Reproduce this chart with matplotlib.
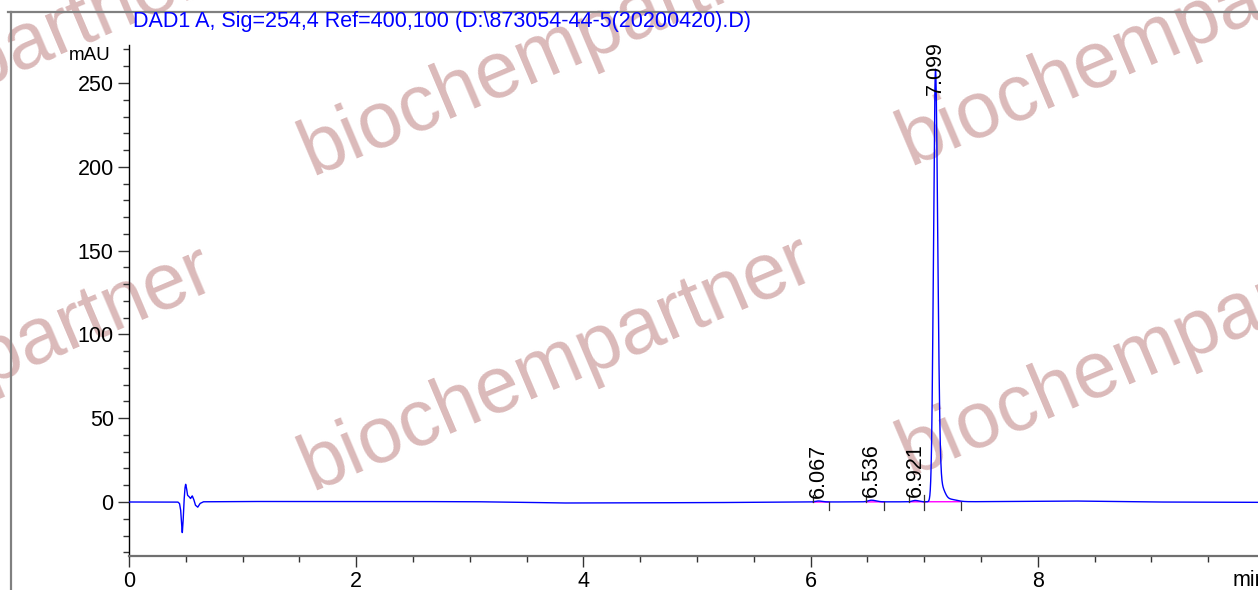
import numpy as np
import matplotlib
matplotlib.use("Agg")
import matplotlib.pyplot as plt
from matplotlib.ticker import MultipleLocator

plt.rcParams['font.family'] = ['Liberation Sans', 'DejaVu Sans']

# ---------------- data ----------------
title = "DAD1 A, Sig=254,4 Ref=400,100 (D:\\873054-44-5(20200420).D)"

# peaks (retention time, apex height in mAU, left/right widths in min)
pk_rt = [6.067, 6.536, 6.921, 7.099]
pk_h = [0.6, 1.0, 0.8, 256.0]
pk_sl = [0.025, 0.03, 0.025, 0.017]
pk_sr = [0.035, 0.04, 0.03, 0.020]
pk_labels = ["6.067", "6.536", "6.921", "7.099"]
pk_start = [6.02, 6.49, 6.87, 7.00]
pk_end = [6.16, 6.65, 7.00, 7.32]

# tailing of main peak
tail_rt = [7.15, 7.22]
tail_h = [8.0, 1.5]
tail_s = [0.03, 0.06]

# baseline drift knots
bl_t = [0.0, 0.4, 1.0, 2.0, 3.0, 3.5, 3.8, 4.2, 5.0, 5.5, 6.0, 7.5, 8.3, 9.0, 9.94]
bl_v = [0.0, 0.0, 0.3, 0.3, 0.2, -0.2, -0.6, -0.5, -0.4, -0.2, 0.0, 0.2, 0.6, 0.0, -0.2]

# injection disturbance
inj_t = [0.43, 0.445, 0.455, 0.462, 0.469, 0.476, 0.484, 0.492, 0.499, 0.507,
         0.515, 0.528, 0.542, 0.557, 0.57, 0.585, 0.605, 0.625, 0.655]
inj_v = [0, -1, -5, -13, -18.7, -12, 0, 8, 10.7, 8,
         4, 3.2, 2, 3.6, 1.5, -2, -3.2, -1, 0]

x_major = [0, 2, 4, 6, 8]
y_major = [0, 50, 100, 150, 200, 250]

# ---------------- figure ----------------
W, H = 1258, 590
fig = plt.figure(figsize=(W / 100, H / 100), dpi=100)

px_per_min = 113.6
px_per_mau = 1.676
x0_px, y0_px = 129, 502
ax_top_px, ax_bot_px = 45, 556
ax = fig.add_axes([x0_px / W, 1 - ax_bot_px / H, (W - x0_px) / W, (ax_bot_px - ax_top_px) / H])
ax.set_facecolor('none')
ax.set_xlim(0, (W - x0_px) / px_per_min)
ax.set_ylim(-(ax_bot_px - y0_px) / px_per_mau, (y0_px - ax_top_px) / px_per_mau)

# signal
t = np.linspace(0, 9.94, 8000)
sig = np.interp(t, bl_t, bl_v)
sig = sig + np.interp(t, inj_t, inj_v, left=0, right=0)
for rt, h, sl, sr in zip(pk_rt, pk_h, pk_sl, pk_sr):
    s = np.where(t < rt, sl, sr)
    sig = sig + h * np.exp(-0.5 * ((t - rt) / s) ** 2)
for rt, h, s in zip(tail_rt, tail_h, tail_s):
    sig = sig + h * np.exp(-0.5 * ((t - rt) / s) ** 2) * (t > 7.099)

ax.plot(t, sig, color='#0000ff', lw=1.0, zorder=3)

# integration baselines and ticks
for a, b in zip(pk_start, pk_end):
    ya = np.interp(a, bl_t, bl_v)
    yb = np.interp(b, bl_t, bl_v)
    ax.plot([a, b], [ya, yb], color='#ff00ff', lw=1.0, zorder=2)
    ax.plot([a, a], [ya, ya + 4], color='#333333', lw=0.9, zorder=4)
    ax.plot([b, b], [yb, yb - 5], color='#333333', lw=0.9, zorder=4)

for rt, h, lab in zip(pk_rt, pk_h, pk_labels):
    y = min(h + 2, 243)
    ax.text(rt, y, lab, rotation=90, ha='center', va='bottom', fontsize=15.5,
            color='black', zorder=5)

# axes styling
for sp in ['top', 'right']:
    ax.spines[sp].set_visible(False)
ax.spines['left'].set_color('black')
ax.spines['left'].set_linewidth(1.0)
ax.spines['bottom'].set_color('#707070')
ax.spines['bottom'].set_linewidth(1.6)

ax.set_xticks(x_major)
ax.set_xticklabels([str(v) for v in x_major])
ax.xaxis.set_minor_locator(MultipleLocator(0.5))
ax.set_yticks(y_major)
ax.set_yticklabels([str(v) for v in y_major])
ax.yaxis.set_minor_locator(MultipleLocator(10))
ax.tick_params(axis='both', which='major', length=8, width=1.0, labelsize=15.5,
               direction='out', color='#333333', pad=3)
ax.tick_params(axis='both', which='minor', length=4, width=1.0, direction='out',
               color='#333333')

# axis unit labels
fig.text(111 / W, 1 - 56 / H, "mAU", ha='right', va='center', fontsize=13.5)
fig.text(1233 / W, 1 - 581 / H, "min", ha='left', va='center', fontsize=15.5)

# title
fig.text(133 / W, 1 - 21 / H, title, ha='left', va='center', fontsize=15.5, color='#0000ff')

# outer frame
fig.add_artist(plt.Line2D([11 / W, 11 / W], [0, 1 - 12 / H], color='#808080', lw=1.6))
fig.add_artist(plt.Line2D([8 / W, 1], [1 - 12 / H, 1 - 12 / H], color='#808080', lw=1.6))

# watermarks
wm_x = [-288, 312, 312, 910, 910, -300]
wm_y = [500, 490, 175, 165, 475, 205]
for xx, yy in zip(wm_x, wm_y):
    fig.text(xx / W, 1 - yy / H, "biochempartner", rotation=23, rotation_mode='anchor',
             ha='left', va='baseline', fontsize=57, color='#dbbaba', zorder=-1)

fig.savefig("out.png", dpi=100)
